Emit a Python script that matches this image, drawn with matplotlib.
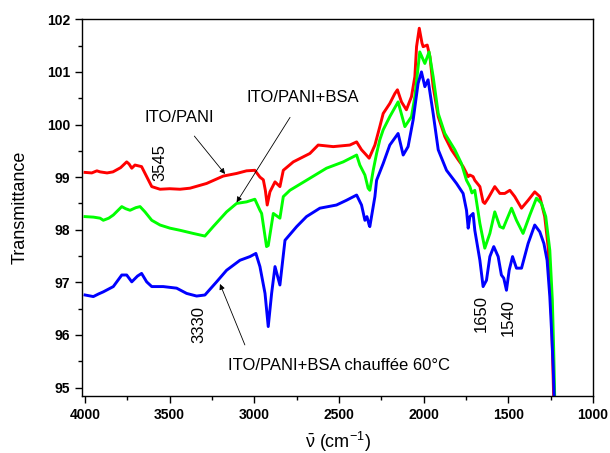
import matplotlib
matplotlib.use("Agg")
import matplotlib.pyplot as plt
from matplotlib.ticker import MultipleLocator

plt.rcParams['font.family'] = ['Liberation Sans', 'DejaVu Sans']
plt.rcParams['mathtext.fontset'] = 'custom'
plt.rcParams['mathtext.rm'] = 'Liberation Sans'
plt.rcParams['mathtext.it'] = 'Liberation Sans'

# ITO/PANI (red)
red_x = [4000, 3960, 3930, 3911, 3870, 3835, 3790, 3754, 3740, 3724, 3705, 3666, 3636, 3606,
         3557, 3500, 3439, 3380, 3282, 3184, 3105, 3046, 2997, 2967, 2947, 2935, 2924, 2908,
         2878, 2849, 2829, 2770, 2672, 2623, 2534, 2436, 2396, 2367, 2347, 2322, 2288, 2259,
         2239, 2200, 2170, 2155, 2131, 2102, 2072, 2052, 2042, 2026, 2010, 2003, 1979, 1963,
         1944, 1914, 1875, 1836, 1796, 1767, 1737, 1727, 1708, 1698, 1668, 1649, 1639, 1619,
         1580, 1550, 1521, 1491, 1462, 1422, 1383, 1344, 1314, 1285, 1265, 1245, 1232]
red_y = [99.09, 99.08, 99.12, 99.10, 99.08, 99.10, 99.18, 99.29, 99.25, 99.17, 99.23, 99.20, 99.01, 98.82,
         98.77, 98.78, 98.77, 98.79, 98.88, 99.02, 99.07, 99.12, 99.13, 99.00, 98.95, 98.75, 98.47, 98.72,
         98.91, 98.82, 99.13, 99.29, 99.45, 99.61, 99.58, 99.61, 99.67, 99.52, 99.45, 99.36, 99.61, 99.96,
         100.21, 100.40, 100.59, 100.66, 100.43, 100.28, 100.53, 100.91, 101.48, 101.83, 101.55, 101.48, 101.51, 101.29,
         100.72, 100.15, 99.77, 99.52, 99.33, 99.20, 99.01, 99.04, 99.01, 98.94, 98.82, 98.53, 98.50, 98.60,
         98.82, 98.69, 98.69, 98.75, 98.63, 98.41, 98.56, 98.72, 98.63, 98.25, 97.68, 96.35, 94.80]

# ITO/PANI+BSA (green)
green_x = [4000, 3950, 3911, 3892, 3860, 3833, 3783, 3760, 3734, 3700, 3675, 3646, 3606, 3557,
           3498, 3439, 3361, 3292, 3243, 3164, 3105, 3046, 2997, 2967, 2957, 2928, 2918, 2888,
           2849, 2829, 2790, 2692, 2574, 2475, 2396, 2377, 2347, 2328, 2318, 2298, 2278, 2259,
           2239, 2200, 2151, 2111, 2072, 2052, 2023, 1993, 1968, 1944, 1914, 1875, 1816, 1777,
           1747, 1727, 1715, 1698, 1668, 1639, 1609, 1580, 1550, 1530, 1511, 1481, 1452, 1413,
           1373, 1334, 1304, 1279, 1255, 1240, 1232, 1226]
green_y = [98.25, 98.24, 98.22, 98.18, 98.22, 98.28, 98.44, 98.40, 98.37, 98.42, 98.44, 98.34, 98.18, 98.09,
           98.03, 97.99, 97.93, 97.88, 98.06, 98.34, 98.50, 98.53, 98.58, 98.37, 98.31, 97.68, 97.70, 98.31,
           98.22, 98.63, 98.75, 98.94, 99.17, 99.29, 99.42, 99.23, 99.04, 98.79, 98.75, 99.13, 99.45, 99.71,
           99.90, 100.15, 100.43, 99.96, 100.15, 100.53, 101.38, 101.16, 101.38, 100.91, 100.21, 99.83, 99.52, 99.26,
           98.94, 98.82, 98.70, 98.75, 98.12, 97.65, 97.93, 98.34, 98.06, 98.03, 98.18, 98.41, 98.18, 97.93,
           98.28, 98.60, 98.50, 98.25, 97.61, 96.66, 95.71, 94.80]

# ITO/PANI+BSA chauffée 60°C (blue)
blue_x = [4000, 3951, 3920, 3892, 3833, 3783, 3754, 3724, 3690, 3666, 3636, 3606, 3538, 3459,
          3400, 3341, 3292, 3223, 3164, 3085, 3026, 2991, 2967, 2937, 2918, 2898, 2878, 2849,
          2819, 2750, 2692, 2613, 2515, 2456, 2396, 2367, 2347, 2335, 2322, 2318, 2288, 2278,
          2239, 2200, 2151, 2121, 2092, 2062, 2033, 2013, 1993, 1974, 1944, 1914, 1865, 1806,
          1767, 1747, 1737, 1727, 1708, 1698, 1668, 1649, 1629, 1609, 1586, 1560, 1541, 1527,
          1511, 1495, 1475, 1452, 1422, 1383, 1344, 1314, 1290, 1271, 1255, 1243, 1235, 1228]
blue_y = [96.76, 96.73, 96.78, 96.82, 96.92, 97.14, 97.14, 97.01, 97.12, 97.17, 97.01, 96.92, 96.92, 96.89,
          96.79, 96.74, 96.76, 97.01, 97.23, 97.42, 97.49, 97.55, 97.30, 96.79, 96.16, 96.79, 97.30, 96.95,
          97.80, 98.06, 98.25, 98.41, 98.47, 98.56, 98.66, 98.47, 98.18, 98.25, 98.09, 98.06, 98.63, 98.94,
          99.26, 99.61, 99.83, 99.42, 99.58, 100.09, 100.78, 101.00, 100.72, 100.85, 100.21, 99.52, 99.13, 98.88,
          98.69, 98.37, 98.03, 98.25, 98.31, 97.99, 97.42, 96.92, 97.04, 97.49, 97.68, 97.49, 97.14, 97.08,
          96.85, 97.23, 97.49, 97.27, 97.27, 97.74, 98.09, 97.96, 97.74, 97.42, 96.73, 95.97, 95.40, 94.70]

fig = plt.figure(figsize=(6.1, 4.53), dpi=100)
ax = fig.add_axes([0.1344, 0.1258, 0.8377, 0.8316])

lw = 2.1
ax.plot(red_x, red_y, color='#ff0000', lw=lw)
ax.plot(green_x, green_y, color='#00ff00', lw=lw)
ax.plot(blue_x, blue_y, color='#0000ff', lw=lw)

ax.set_xlim(4018, 1000)
ax.set_ylim(94.84, 102)
ax.xaxis.set_major_locator(MultipleLocator(500))
ax.xaxis.set_minor_locator(MultipleLocator(250))
ax.yaxis.set_major_locator(MultipleLocator(1))
ax.yaxis.set_minor_locator(MultipleLocator(0.5))
ax.tick_params(which='both', direction='out', top=False, right=False, width=1.0)
ax.tick_params(which='major', length=5)
ax.tick_params(which='minor', length=3)
for lab in ax.get_xticklabels() + ax.get_yticklabels():
    lab.set_fontweight('bold')
    lab.set_fontsize(10)
for sp in ax.spines.values():
    sp.set_linewidth(1.0)

ax.set_ylabel('Transmittance', fontsize=13, labelpad=13)
ax.set_xlabel(r'$\bar{\nu}$ (cm$^{-1}$)', fontsize=13, labelpad=6)

fs = 12
ax.annotate('ITO/PANI', xy=(3173, 99.06), xytext=(3445, 100.14), fontsize=fs,
            ha='center', va='center',
            arrowprops=dict(arrowstyle='-|>', color='black', lw=0.6, mutation_scale=8,
                            shrinkA=8, shrinkB=0))
ax.annotate('ITO/PANI+BSA', xy=(3105, 98.52), xytext=(2716, 100.51), fontsize=fs,
            ha='center', va='center',
            arrowprops=dict(arrowstyle='-|>', color='black', lw=0.6, mutation_scale=8,
                            shrinkA=8, shrinkB=0))
ax.annotate('ITO/PANI+BSA chauffée 60°C', xy=(3203, 96.97), xytext=(2500, 95.42), fontsize=fs,
            ha='center', va='center',
            arrowprops=dict(arrowstyle='-|>', color='black', lw=0.6, mutation_scale=8,
                            shrinkA=8, shrinkB=0, relpos=(0.1, 1.0)))
ax.text(3557, 99.27, '3545', rotation=90, fontsize=fs, ha='center', va='center')
ax.text(3327, 96.20, '3330', rotation=90, fontsize=fs, ha='center', va='center')
ax.text(1658, 96.40, '1650', rotation=90, fontsize=fs, ha='center', va='center')
ax.text(1501, 96.33, '1540', rotation=90, fontsize=fs, ha='center', va='center')

fig.savefig('out.png', dpi=100)
